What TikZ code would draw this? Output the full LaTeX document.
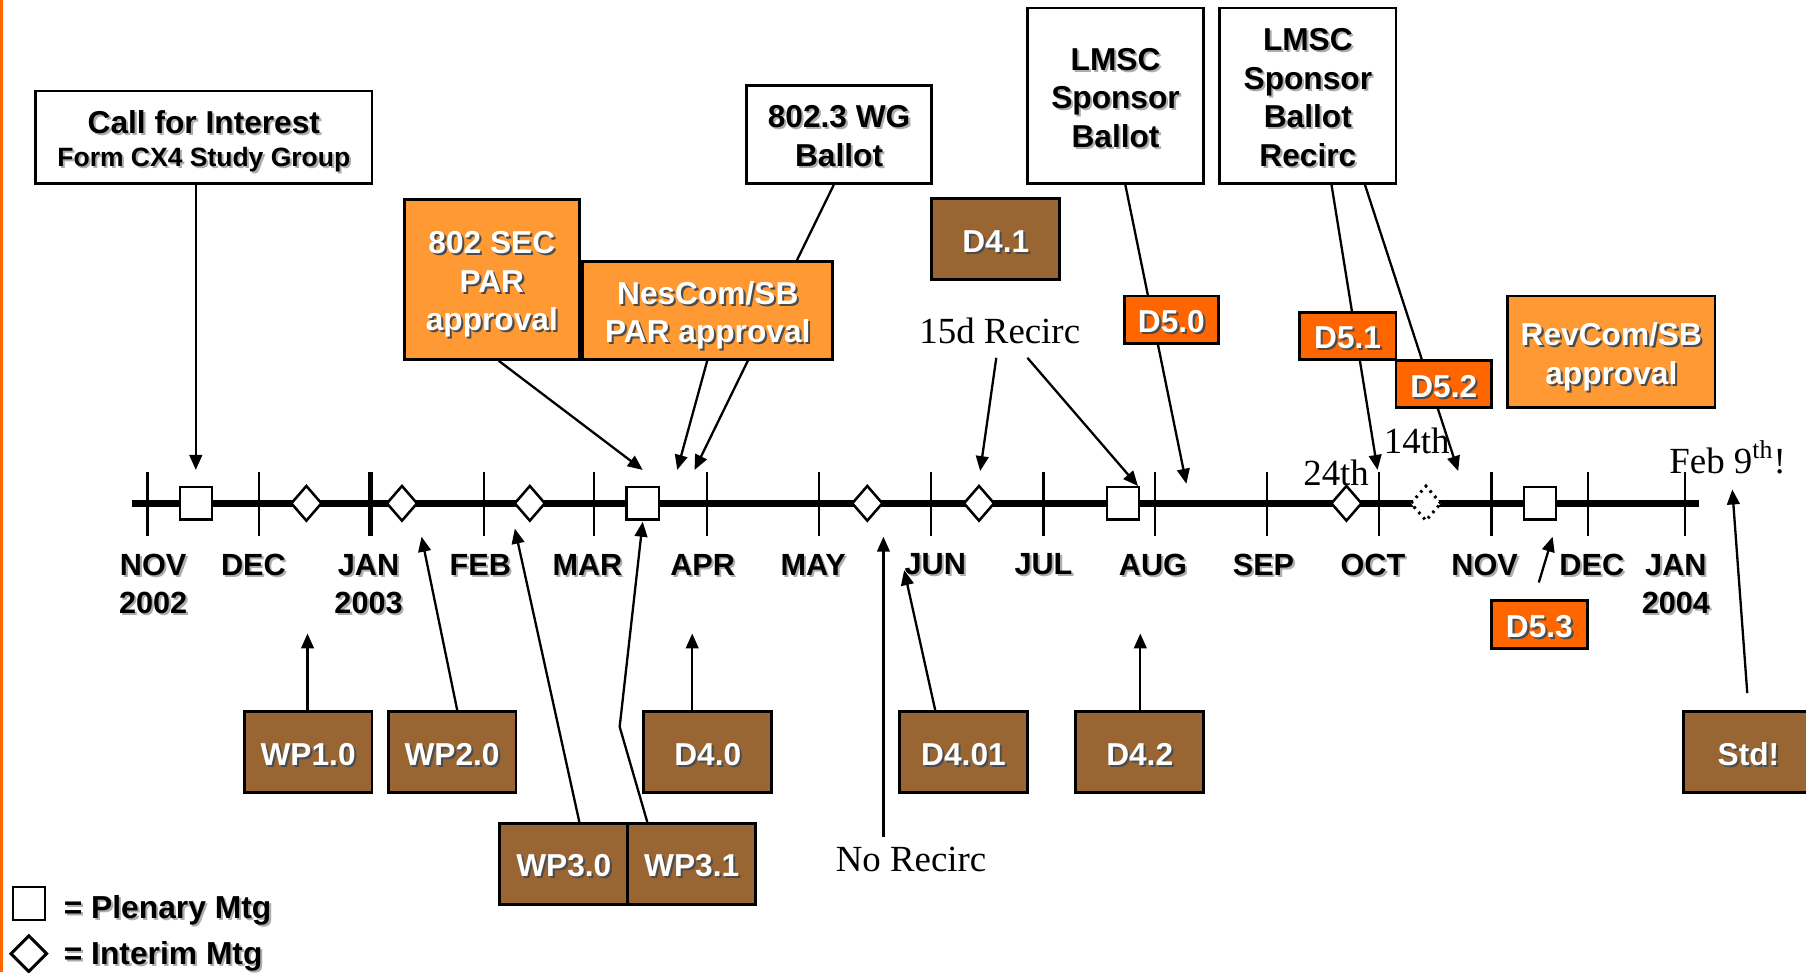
\documentclass[tikz,border=0pt]{standalone}
\usepackage{fontspec}
\setmainfont{Liberation Sans}
\newfontfamily\serifface{Liberation Serif}
\usetikzlibrary{arrows.meta,shapes.geometric,backgrounds}
\definecolor{lor}{HTML}{FF9933}
\definecolor{dor}{HTML}{FF6600}
\definecolor{brn}{HTML}{996633}
\definecolor{shc}{gray}{0.3}
\definecolor{shl}{gray}{0.68}
\newcommand\sh[1]{\leavevmode\rlap{\kern0.9pt\raisebox{-0.9pt}{\textcolor{shc}{#1}}}#1}
\newcommand\shl[1]{\leavevmode\rlap{\kern0.9pt\raisebox{-0.9pt}{\textcolor{shl}{#1}}}#1}
\newcommand\bt[1]{\raisebox{-2.3pt}[\height][\depth]{\begin{tabular}{@{}c@{}}#1\end{tabular}}}
\tikzset{
  bx/.style={draw=black, line width=1.25pt, inner sep=0pt,
             font=\fontsize{13.75}{16.75}\selectfont\bfseries},
  wbox/.style={bx, fill=white, text=black},
  obox/.style={bx, fill=lor, text=white},
  dbox/.style={bx, fill=dor, text=white},
  bbox/.style={bx, fill=brn, text=white, minimum width=55.5pt, minimum height=35pt},
  arr/.style={line width=1pt, -{Triangle[length=6.5pt,width=5.5pt]}},
  plen/.style={rectangle, draw, line width=1pt, fill=white, minimum width=14pt, minimum height=14pt, inner sep=0pt},
  intm/.style={diamond, draw, line width=1.1pt, fill=white, minimum width=13.5pt, minimum height=15.5pt, inner sep=0pt},
  mon/.style={font=\fontsize{13.3}{16.5}\selectfont\bfseries, align=center, inner sep=0pt},
  ser/.style={font=\serifface\fontsize{16}{19}\selectfont, inner sep=0pt},
  tickline/.style={line width=1pt},
}
\begin{document}
\begin{tikzpicture}[x=0.5pt,y=-0.5pt]
\useasboundingbox (0,0) rectangle (1568,844);
\draw[dor, line width=1.5pt] (1.5,0) -- (1.5,844);

% timeline
\foreach \x in {128,225,420,516,614,711,808,906,1003,1100,1197,1295,1379,1463}
  \draw[tickline] (\x,410) -- (\x,465);
\draw[line width=2.2pt] (322,410) -- (322,465);
\draw[line width=3.2pt] (115,437) -- (1475,437);

% meetings
\node[plen] (p1) at (170,437) {};
\node[plen] (p2) at (558,437) {};
\node[plen] (p3) at (975,437) {};
\node[plen] (p4) at (1337,437) {};
\node[intm] (i1) at (266,437) {};
\node[intm] (i2) at (349,437) {};
\node[intm] (i3) at (460,437) {};
\node[intm] (i4) at (753,437) {};
\node[intm] (i5) at (850,437) {};
\node[intm] (i6) at (1169,437) {};
\node[intm, dotted, line width=1.3pt] (i7) at (1238,437) {};

% month labels
\node[mon] (mnov) at (133,508) {\shl{NOV}\\\shl{2002}};
\node[mon] (mdec) at (220,491) {\shl{DEC}};
\node[mon] (mjan) at (320,508) {\shl{JAN}\\\shl{2003}};
\node[mon] (mfeb) at (417,491) {\shl{FEB}};
\node[mon] (mmar) at (510,491) {\shl{MAR}};
\node[mon] (mapr) at (610,491) {\shl{APR}};
\node[mon] (mmay) at (706,491) {\shl{MAY}};
\node[mon] (mjun) at (812,491) {\shl{JUN}};
\node[mon] (mjul) at (906,491) {\shl{JUL}};
\node[mon] (maug) at (1001,491) {\shl{AUG}};
\node[mon] (msep) at (1097,491) {\shl{SEP}};
\node[mon] (moct) at (1192,491) {\shl{OCT}};
\node[mon] (mnov2) at (1289,491) {\shl{NOV}};
\node[mon] (mdec2) at (1382,491) {\shl{DEC}};
\node[mon] (mjan2) at (1455,508) {\shl{JAN}\\\shl{2004}};

% top boxes
\node[wbox, minimum width=146pt, minimum height=40pt] (cfi) at (177,119)
  {\bt{\shl{Call for Interest}\\[-2.5pt]\fontsize{11.5}{13.5}\selectfont\shl{Form CX4 Study Group}}};
\node[obox, minimum width=76pt, minimum height=69.5pt] (sec) at (427,242.5) {\bt{\sh{802 SEC}\\\sh{PAR}\\\sh{approval}}};
\node[obox, minimum width=108.5pt, minimum height=42.5pt] (nes) at (614.5,269.5) {\bt{\sh{NesCom/SB}\\\sh{PAR approval}}};
\node[wbox, minimum width=80.5pt, minimum height=42.5pt] (wg) at (728.5,116.5) {\bt{\shl{802.3 WG}\\\shl{Ballot}}};
\node[bbox] (d41) at (864.5,207.5) {\bt{\sh{D4.1}}};
\node[wbox, minimum width=76.5pt, minimum height=76pt] (lmsc) at (968.5,83) {\bt{\shl{LMSC}\\\shl{Sponsor}\\\shl{Ballot}}};
\node[wbox, minimum width=76.5pt, minimum height=76pt] (rec) at (1135.5,83) {\bt{\shl{LMSC}\\\shl{Sponsor}\\\shl{Ballot}\\\shl{Recirc}}};
\node[dbox, minimum width=41pt, minimum height=20.5pt] (d50) at (1017,277.5) {\bt{\sh{D5.0}}};
\node[dbox, minimum width=42pt, minimum height=20.5pt] (d51) at (1170,291.5) {\bt{\sh{D5.1}}};
\node[dbox, minimum width=41.5pt, minimum height=20.5pt] (d52) at (1253.5,333.5) {\bt{\sh{D5.2}}};
\node[obox, minimum width=90pt, minimum height=48.5pt] (rev) at (1399,305.5) {\bt{\sh{RevCom/SB}\\\sh{approval}}};
\node[dbox, minimum width=41.5pt, minimum height=21pt] (d53) at (1336.5,542) {\bt{\sh{D5.3}}};

% bottom boxes
\node[bbox] (wp1) at (267.5,653) {\bt{\sh{WP1.0}}};
\node[bbox] (wp2) at (392.5,653) {\bt{\sh{WP2.0}}};
\node[bbox] (d40) at (614.5,653) {\bt{\sh{D4.0}}};
\node[bbox] (d401) at (836.5,653) {\bt{\sh{D4.01}}};
\node[bbox] (d42) at (989.5,653) {\bt{\sh{D4.2}}};
\node[bbox, minimum width=56pt] (std) at (1518,653) {\bt{\sh{Std!}}};
\node[bbox] (wp30) at (489.5,750) {\bt{\sh{WP3.0}}};
\node[bbox] (wp31) at (600.5,750) {\bt{\sh{WP3.1}}};

% serif labels
\node[ser] (r15) at (868,287) {15d Recirc};
\node[ser] (nor) at (791,746) {No Recirc};
\node[ser] (t24) at (1160,411) {24th};
\node[ser] (t14) at (1230,383) {14th};
\node[ser] (feb) at (1500,397) {Feb 9\textsuperscript{th}!};

% legend
\node[plen, minimum width=14pt, minimum height=14.5pt] (lp) at (25,784.5) {};
\node[intm, minimum width=16pt, minimum height=16pt, line width=1.3pt] (li) at (25,828) {};
\node[mon, anchor=west, font=\fontsize{13.8}{16}\selectfont\bfseries] (lpt) at (55,791) {\shl{= Plenary Mtg}};
\node[mon, anchor=west, font=\fontsize{13.8}{16}\selectfont\bfseries] (lit) at (55,831) {\shl{= Interim Mtg}};

% arrow end points
\coordinate (e1) at (170,408);
\coordinate (e2) at (558,408);
\coordinate (e3) at (588,408);
\coordinate (e4) at (603,408);
\coordinate (e5) at (851,409);
\coordinate (e6) at (988,422);
\coordinate (e7) at (1030,420);
\coordinate (e8) at (1196,408);
\coordinate (e9) at (1266,409);
\coordinate (e10) at (267,550);
\coordinate (e11) at (366,466);
\coordinate (e12) at (447,459);
\coordinate (e13) at (558,453);
\coordinate (e14) at (601,550);
\coordinate (e15) at (767,466);
\coordinate (e16) at (785,495);
\coordinate (e17) at (990,550);
\coordinate (e18) at (1348,466);
\coordinate (e19) at (1504,425);
\coordinate (bend) at (538,631);

\begin{pgfonlayer}{background}
\draw[arr] (cfi.south -| e1) -- (e1);
\draw[arr] (sec.south -| 433,0) -- (e2);
\draw[arr] (nes.south -| 614,0) -- (e3);
\draw[arr] (wg.south -| 724,0) -- (e4);
\draw[arr] ([yshift=-6pt]r15.south -| 865,0) -- (e5);
\draw[arr] ([yshift=-6pt]r15.south -| 892,0) -- (e6);
\draw[arr] (lmsc.south -| 977,0) -- (e7);
\draw[arr] (rec.south -| 1156,0) -- (e8);
\draw[arr] (rec.south -| 1185,0) -- (e9);
\draw[arr] (wp1.north -| e10) -- (e10);
\draw[arr] (wp2.north -| 397,0) -- (e11);
\draw[arr] (wp30.north -| 503,0) -- (e12);
\draw[arr] (wp31.north -| 562,0) -- (bend) -- (e13);
\draw[arr] (d40.north -| e14) -- (e14);
\draw[arr] ([yshift=4pt]nor.north -| e15) -- (e15);
\draw[arr] (d401.north -| 812,0) -- (e16);
\draw[arr] (d42.north -| e17) -- (e17);
\draw[arr] ([yshift=7pt]d53.north -| 1336,0) -- (e18);
\draw[arr] ([yshift=7.5pt]std.north -| 1517,0) -- (e19);
\end{pgfonlayer}
\end{tikzpicture}
\end{document}
